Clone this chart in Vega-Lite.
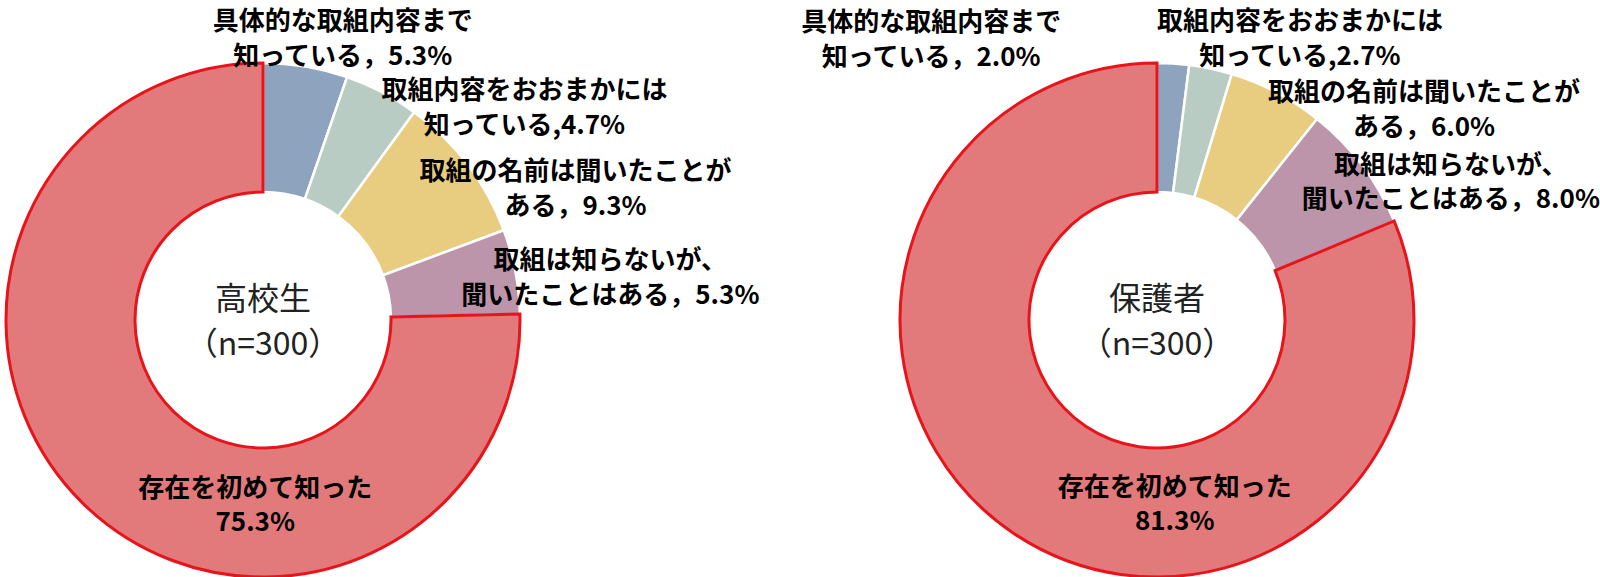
{
  "$schema": "https://vega.github.io/schema/vega-lite/v6.json",
  "padding": {"left": 0, "top": 4, "right": 0, "bottom": 0},
  "background": "white",
  "bounds": "flush",
  "datasets": {
    "koukousei": [
      {"id": 1, "item": "具体的な取組内容まで知っている", "value": 5.3, "label": "具体的な取組内容まで\n知っている，5.3%"},
      {"id": 2, "item": "取組内容をおおまかには知っている", "value": 4.7, "label": "取組内容をおおまかには\n知っている,4.7%"},
      {"id": 3, "item": "取組の名前は聞いたことがある", "value": 9.3, "label": "取組の名前は聞いたことが\nある，9.3%"},
      {"id": 4, "item": "取組は知らないが、聞いたことはある", "value": 5.3, "label": "取組は知らないが、\n聞いたことはある，5.3%"},
      {"id": 5, "item": "存在を初めて知った", "value": 75.3, "label": "存在を初めて知った\n75.3%"}
    ],
    "hogosha": [
      {"id": 1, "item": "具体的な取組内容まで知っている", "value": 2.0, "label": "具体的な取組内容まで\n知っている，2.0%"},
      {"id": 2, "item": "取組内容をおおまかには知っている", "value": 2.7, "label": "取組内容をおおまかには\n知っている,2.7%"},
      {"id": 3, "item": "取組の名前は聞いたことがある", "value": 6.0, "label": "取組の名前は聞いたことが\nある，6.0%"},
      {"id": 4, "item": "取組は知らないが、聞いたことはある", "value": 8.0, "label": "取組は知らないが、\n聞いたことはある，8.0%"},
      {"id": 5, "item": "存在を初めて知った", "value": 81.3, "label": "存在を初めて知った\n81.3%"}
    ]
  },
  "spacing": 374,
  "resolve": {"scale": {"theta": "independent"}},
  "hconcat": [
    {
      "width": 520,
      "height": 520,
      "layer": [
        {
          "data": {"name": "koukousei"},
          "layer": [
            {
              "mark": {"type": "arc", "outerRadius": 257, "innerRadius": 128},
              "encoding": {
                "theta": {"field": "value", "type": "quantitative", "stack": true},
                "order": {"field": "id", "type": "quantitative", "sort": "ascending"},
                "color": {
                  "field": "item",
                  "type": "nominal",
                  "scale": {
                    "domain": ["具体的な取組内容まで知っている", "取組内容をおおまかには知っている", "取組の名前は聞いたことがある", "取組は知らないが、聞いたことはある", "存在を初めて知った"],
                    "range": ["#8EA4BE", "#B9CCC4", "#E8CD80", "#BC95AA", "#E27A7B"]
                  },
                  "legend": null
                },
                "stroke": {"condition": {"test": "datum.id == 5", "value": "#E8141B"}, "value": "white"},
                "strokeWidth": {"condition": {"test": "datum.id == 5", "value": 3}, "value": 2.5}
              }
            },
            {
              "mark": {"type": "text", "font": "Noto Sans CJK JP", "fontSize": 26, "fontWeight": "bold", "lineBreak": "\n", "lineHeight": 35, "align": "center", "baseline": "middle", "dx": 37, "dy": -43.5, "color": "black"},
              "encoding": {
                "theta": {"field": "value", "type": "quantitative", "stack": true},
                "order": {"field": "id", "type": "quantitative", "sort": "ascending"},
                "radius": {"value": 258},
                "text": {"condition": {"test": "datum.id == 1", "field": "label"}, "value": ""}
              }
            },
            {
              "mark": {"type": "text", "font": "Noto Sans CJK JP", "fontSize": 26, "fontWeight": "bold", "lineBreak": "\n", "lineHeight": 35, "align": "center", "baseline": "middle", "dx": 142, "dy": -0.5, "color": "black"},
              "encoding": {
                "theta": {"field": "value", "type": "quantitative", "stack": true},
                "order": {"field": "id", "type": "quantitative", "sort": "ascending"},
                "radius": {"value": 258},
                "text": {"condition": {"test": "datum.id == 2", "field": "label"}, "value": ""}
              }
            },
            {
              "mark": {"type": "text", "font": "Noto Sans CJK JP", "fontSize": 26, "fontWeight": "bold", "lineBreak": "\n", "lineHeight": 35, "align": "center", "baseline": "middle", "dx": 107, "dy": 8.5, "color": "black"},
              "encoding": {
                "theta": {"field": "value", "type": "quantitative", "stack": true},
                "order": {"field": "id", "type": "quantitative", "sort": "ascending"},
                "radius": {"value": 258},
                "text": {"condition": {"test": "datum.id == 3", "field": "label"}, "value": ""}
              }
            },
            {
              "mark": {"type": "text", "font": "Noto Sans CJK JP", "fontSize": 26, "fontWeight": "bold", "lineBreak": "\n", "lineHeight": 35, "align": "center", "baseline": "middle", "dx": 94, "dy": -10.5, "color": "black"},
              "encoding": {
                "theta": {"field": "value", "type": "quantitative", "stack": true},
                "order": {"field": "id", "type": "quantitative", "sort": "ascending"},
                "radius": {"value": 258},
                "text": {"condition": {"test": "datum.id == 4", "field": "label"}, "value": ""}
              }
            },
            {
              "mark": {"type": "text", "font": "Noto Sans CJK JP", "fontSize": 26, "fontWeight": "bold", "lineBreak": "\n", "lineHeight": 34, "align": "center", "baseline": "middle", "dx": 125, "dy": 33, "color": "black"},
              "encoding": {
                "theta": {"field": "value", "type": "quantitative", "stack": true},
                "order": {"field": "id", "type": "quantitative", "sort": "ascending"},
                "radius": {"value": 190},
                "text": {"condition": {"test": "datum.id == 5", "field": "label"}, "value": ""}
              }
            }
          ]
        },
        {
          "data": {"values": [{"group": "高校生\n（n=300）"}]},
          "mark": {"type": "text", "font": "Noto Sans CJK JP", "fontSize": 32, "lineBreak": "\n", "lineHeight": 45, "align": "center", "baseline": "middle", "dy": -20, "color": "#222222"},
          "encoding": {"text": {"field": "group", "type": "nominal"}}
        }
      ]
    },
    {
      "width": 520,
      "height": 520,
      "layer": [
        {
          "data": {"name": "hogosha"},
          "layer": [
            {
              "mark": {"type": "arc", "outerRadius": 257, "innerRadius": 128},
              "encoding": {
                "theta": {"field": "value", "type": "quantitative", "stack": true},
                "order": {"field": "id", "type": "quantitative", "sort": "ascending"},
                "color": {
                  "field": "item",
                  "type": "nominal",
                  "scale": {
                    "domain": ["具体的な取組内容まで知っている", "取組内容をおおまかには知っている", "取組の名前は聞いたことがある", "取組は知らないが、聞いたことはある", "存在を初めて知った"],
                    "range": ["#8EA4BE", "#B9CCC4", "#E8CD80", "#BC95AA", "#E27A7B"]
                  },
                  "legend": null
                },
                "stroke": {"condition": {"test": "datum.id == 5", "value": "#E8141B"}, "value": "white"},
                "strokeWidth": {"condition": {"test": "datum.id == 5", "value": 3}, "value": 2.5}
              }
            },
            {
              "mark": {"type": "text", "font": "Noto Sans CJK JP", "fontSize": 26, "fontWeight": "bold", "lineBreak": "\n", "lineHeight": 35, "align": "center", "baseline": "middle", "dx": -242, "dy": -39.5, "color": "black"},
              "encoding": {
                "theta": {"field": "value", "type": "quantitative", "stack": true},
                "order": {"field": "id", "type": "quantitative", "sort": "ascending"},
                "radius": {"value": 258},
                "text": {"condition": {"test": "datum.id == 1", "field": "label"}, "value": ""}
              }
            },
            {
              "mark": {"type": "text", "font": "Noto Sans CJK JP", "fontSize": 26, "fontWeight": "bold", "lineBreak": "\n", "lineHeight": 35, "align": "center", "baseline": "middle", "dx": 89, "dy": -45.5, "color": "black"},
              "encoding": {
                "theta": {"field": "value", "type": "quantitative", "stack": true},
                "order": {"field": "id", "type": "quantitative", "sort": "ascending"},
                "radius": {"value": 258},
                "text": {"condition": {"test": "datum.id == 2", "field": "label"}, "value": ""}
              }
            },
            {
              "mark": {"type": "text", "font": "Noto Sans CJK JP", "fontSize": 26, "fontWeight": "bold", "lineBreak": "\n", "lineHeight": 35, "align": "center", "baseline": "middle", "dx": 147, "dy": 1.5, "color": "black"},
              "encoding": {
                "theta": {"field": "value", "type": "quantitative", "stack": true},
                "order": {"field": "id", "type": "quantitative", "sort": "ascending"},
                "radius": {"value": 258},
                "text": {"condition": {"test": "datum.id == 3", "field": "label"}, "value": ""}
              }
            },
            {
              "mark": {"type": "text", "font": "Noto Sans CJK JP", "fontSize": 26, "fontWeight": "bold", "lineBreak": "\n", "lineHeight": 34, "align": "center", "baseline": "middle", "dx": 88, "dy": 2, "color": "black"},
              "encoding": {
                "theta": {"field": "value", "type": "quantitative", "stack": true},
                "order": {"field": "id", "type": "quantitative", "sort": "ascending"},
                "radius": {"value": 258},
                "text": {"condition": {"test": "datum.id == 4", "field": "label"}, "value": ""}
              }
            },
            {
              "mark": {"type": "text", "font": "Noto Sans CJK JP", "fontSize": 26, "fontWeight": "bold", "lineBreak": "\n", "lineHeight": 34, "align": "center", "baseline": "middle", "dx": 123, "dy": 10, "color": "black"},
              "encoding": {
                "theta": {"field": "value", "type": "quantitative", "stack": true},
                "order": {"field": "id", "type": "quantitative", "sort": "ascending"},
                "radius": {"value": 190},
                "text": {"condition": {"test": "datum.id == 5", "field": "label"}, "value": ""}
              }
            }
          ]
        },
        {
          "data": {"values": [{"group": "保護者\n（n=300）"}]},
          "mark": {"type": "text", "font": "Noto Sans CJK JP", "fontSize": 32, "lineBreak": "\n", "lineHeight": 45, "align": "center", "baseline": "middle", "dy": -20, "color": "#222222"},
          "encoding": {"text": {"field": "group", "type": "nominal"}}
        }
      ]
    }
  ],
  "config": {
    "view": {"stroke": null}
  }
}
